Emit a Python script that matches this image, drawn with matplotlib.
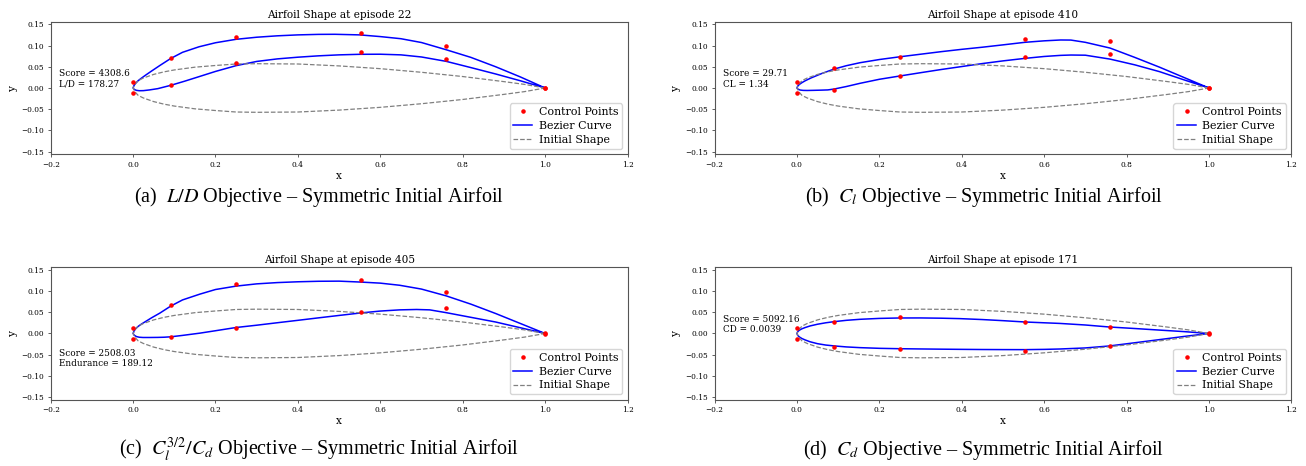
import numpy as np
import matplotlib
matplotlib.use("Agg")
import matplotlib.pyplot as plt

plt.rcParams["font.family"] = "DejaVu Serif"
plt.rcParams["mathtext.fontset"] = "stix"

# initial symmetric airfoil (upper half, lower is mirrored)
init_x = [0.0, 0.005, 0.0125, 0.025, 0.05, 0.075, 0.1, 0.15, 0.2, 0.25, 0.3, 0.4, 0.5, 0.6, 0.7, 0.8, 0.9, 0.95, 1.0]
init_y = [0.0, 0.0095, 0.0175, 0.0235, 0.032, 0.038, 0.0425, 0.049, 0.053, 0.0565, 0.0572, 0.0565, 0.052, 0.0455, 0.037, 0.027, 0.015, 0.0085, 0.0]

# control point x stations (same for every run)
cp_x = [0.0, 0.091, 0.25, 0.553, 0.76, 1.0]

episodes = [22, 410, 405, 171]
scores = ["4308.6", "29.71", "2508.03", "5092.16"]
metrics = ["L/D = 178.27", "CL = 1.34", "Endurance = 189.12", "CD = 0.0039"]

# (a) L/D
cp_up_a = [0.013, 0.0706, 0.120, 0.1287, 0.100, 0.0]
cp_lo_a = [-0.0126, 0.0063, 0.0581, 0.084, 0.069, -0.001]
up_x_a = [0.0, 0.002, 0.006, 0.012, 0.02, 0.03, 0.045, 0.065, 0.0914, 0.12, 0.16, 0.20, 0.25, 0.30, 0.35, 0.40, 0.45, 0.49, 0.55, 0.60, 0.65, 0.70, 0.76, 0.82, 0.88, 0.94, 1.0]
up_y_a = [0.0, 0.0055, 0.011, 0.017, 0.023, 0.030, 0.040, 0.053, 0.0695, 0.084, 0.097, 0.1065, 0.1146, 0.1195, 0.1228, 0.125, 0.1262, 0.1264, 0.125, 0.121, 0.116, 0.107, 0.090, 0.072, 0.050, 0.026, 0.0]
lo_x_a = [0.0, 0.003, 0.008, 0.015, 0.025, 0.04, 0.06, 0.0914, 0.125, 0.16, 0.20, 0.25, 0.30, 0.35, 0.40, 0.45, 0.50, 0.55, 0.60, 0.65, 0.70, 0.76, 0.82, 0.88, 0.94, 1.0]
lo_y_a = [0.0, -0.0035, -0.0055, -0.0064, -0.0062, -0.0045, -0.0015, 0.0063, 0.016, 0.0267, 0.039, 0.0526, 0.0625, 0.0685, 0.0725, 0.0757, 0.078, 0.0793, 0.0795, 0.078, 0.073, 0.0627, 0.048, 0.033, 0.017, 0.0]

# (b) Cl
cp_up_b = [0.0133, 0.0463, 0.0738, 0.1154, 0.1098, 0.0]
cp_lo_b = [-0.0126, -0.0039, 0.029, 0.0738, 0.0808, -0.001]
up_x_b = [0.0, 0.002, 0.006, 0.012, 0.02, 0.035, 0.06, 0.09, 0.12, 0.153, 0.20, 0.25, 0.30, 0.35, 0.40, 0.45, 0.50, 0.553, 0.60, 0.64, 0.665, 0.70, 0.76, 0.82, 0.88, 0.94, 1.0]
up_y_b = [0.0, 0.0045, 0.0085, 0.0125, 0.017, 0.024, 0.034, 0.0445, 0.0525, 0.0595, 0.067, 0.0735, 0.0795, 0.0855, 0.091, 0.096, 0.1015, 0.1075, 0.111, 0.113, 0.1128, 0.1075, 0.094, 0.072, 0.049, 0.0245, 0.0]
lo_x_b = [0.0, 0.003, 0.008, 0.015, 0.025, 0.04, 0.06, 0.075, 0.09, 0.12, 0.153, 0.20, 0.25, 0.30, 0.35, 0.40, 0.45, 0.50, 0.553, 0.60, 0.64, 0.665, 0.70, 0.76, 0.82, 0.88, 0.94, 1.0]
lo_y_b = [0.0, -0.003, -0.0048, -0.0056, -0.0058, -0.0055, -0.005, -0.0045, -0.0025, 0.0035, 0.011, 0.0205, 0.0283, 0.036, 0.0435, 0.0505, 0.0575, 0.0638, 0.0697, 0.0742, 0.0768, 0.0776, 0.0772, 0.068, 0.0545, 0.0385, 0.019, 0.0]

# (c) Cl^1.5/Cd
cp_up_c = [0.0126, 0.0675, 0.117, 0.1256, 0.097, 0.0]
cp_lo_c = [-0.0126, -0.0078, 0.0141, 0.0502, 0.0593, -0.001]
up_x_c = [0.0, 0.002, 0.006, 0.012, 0.02, 0.03, 0.045, 0.065, 0.0914, 0.12, 0.162, 0.20, 0.25, 0.30, 0.35, 0.40, 0.45, 0.50, 0.553, 0.60, 0.647, 0.70, 0.76, 0.82, 0.88, 0.94, 1.0]
up_y_c = [0.0, 0.0055, 0.011, 0.0165, 0.022, 0.028, 0.037, 0.048, 0.0645, 0.079, 0.0926, 0.1035, 0.1115, 0.1168, 0.1198, 0.1217, 0.1229, 0.1232, 0.121, 0.1185, 0.1135, 0.1045, 0.0885, 0.069, 0.047, 0.0235, 0.0]
lo_x_c = [0.0, 0.003, 0.008, 0.015, 0.024, 0.04, 0.06, 0.075, 0.0914, 0.12, 0.162, 0.20, 0.25, 0.30, 0.35, 0.40, 0.45, 0.50, 0.553, 0.60, 0.647, 0.688, 0.72, 0.76, 0.82, 0.88, 0.94, 1.0]
lo_y_c = [0.0, -0.0042, -0.0072, -0.0088, -0.0094, -0.0094, -0.0092, -0.0088, -0.0078, -0.0045, 0.0008, 0.0065, 0.0141, 0.0195, 0.0253, 0.031, 0.0368, 0.0425, 0.0484, 0.0528, 0.0556, 0.0565, 0.0556, 0.049, 0.038, 0.027, 0.0135, 0.0]

# (d) Cd
cp_up_d = [0.0122, 0.0279, 0.0381, 0.0263, 0.0161, 0.0]
cp_lo_d = [-0.013, -0.0318, -0.0357, -0.042, -0.0294, -0.001]
up_x_d = [0.0, 0.002, 0.006, 0.012, 0.02, 0.032, 0.05, 0.07, 0.09, 0.12, 0.153, 0.20, 0.249, 0.30, 0.35, 0.395, 0.45, 0.50, 0.553, 0.60, 0.638, 0.70, 0.758, 0.82, 0.88, 0.94, 1.0]
up_y_d = [0.0, 0.0045, 0.0078, 0.011, 0.014, 0.0178, 0.0218, 0.0252, 0.0278, 0.031, 0.0334, 0.0355, 0.0365, 0.0366, 0.036, 0.035, 0.0328, 0.0302, 0.0271, 0.0252, 0.0237, 0.020, 0.0153, 0.0117, 0.008, 0.0044, 0.0]
lo_x_d = [0.0, 0.002, 0.006, 0.012, 0.02, 0.032, 0.05, 0.07, 0.09, 0.12, 0.153, 0.20, 0.249, 0.30, 0.35, 0.395, 0.45, 0.50, 0.553, 0.60, 0.638, 0.70, 0.758, 0.82, 0.88, 0.94, 1.0]
lo_y_d = [0.0, -0.0045, -0.0082, -0.0118, -0.0152, -0.0195, -0.024, -0.0272, -0.0292, -0.0316, -0.0333, -0.0349, -0.0358, -0.0364, -0.0369, -0.0373, -0.0377, -0.0379, -0.038, -0.0374, -0.0365, -0.034, -0.0294, -0.0218, -0.0144, -0.0069, 0.0]

captions = [
    "(a)  $L/D$ Objective \u2013 Symmetric Initial Airfoil",
    "(b)  $C_l$ Objective \u2013 Symmetric Initial Airfoil",
    "(c)  $C_l^{3/2}/C_d$ Objective \u2013 Symmetric Initial Airfoil",
    "(d)  $C_d$ Objective \u2013 Symmetric Initial Airfoil",
]

runs = [
    (cp_up_a, cp_lo_a, up_x_a, up_y_a, lo_x_a, lo_y_a),
    (cp_up_b, cp_lo_b, up_x_b, up_y_b, lo_x_b, lo_y_b),
    (cp_up_c, cp_lo_c, up_x_c, up_y_c, lo_x_c, lo_y_c),
    (cp_up_d, cp_lo_d, up_x_d, up_y_d, lo_x_d, lo_y_d),
]

fig = plt.figure(figsize=(13.06, 4.66), dpi=100)

# axes boxes in figure fractions
lefts = [0.0388, 0.5471, 0.0388, 0.5471]
bottoms = [0.6689, 0.6689, 0.1421, 0.1421]
cap_x = [0.2443, 0.7534, 0.2443, 0.7534]
cap_y = [0.5773, 0.5773, 0.0354, 0.0354]
text_y = [0.0215, 0.0215, -0.0595, 0.0215]

for i, (cp_up, cp_lo, ux, uy, lx, ly) in enumerate(runs):
    ax = fig.add_axes([lefts[i], bottoms[i], 0.4417, 0.2845])

    # closed outline: TE -> upper -> LE -> lower -> TE
    bx = ux[::-1] + lx[1:]
    by = uy[::-1] + ly[1:]
    px = cp_x[::-1] + cp_x
    py = cp_up[::-1] + cp_lo
    ix = init_x[::-1] + init_x[1:]
    iy = init_y[::-1] + [-v for v in init_y[1:]]

    ax.plot(px, py, "r.", markersize=4.5, label="Control Points", zorder=3)
    ax.plot(bx, by, "b-", linewidth=1.1, label="Bezier Curve")
    ax.plot(ix, iy, "--", color="gray", linewidth=0.9, label="Initial Shape")

    ax.text(-0.18, text_y[i], "Score = " + scores[i] + "\n" + metrics[i],
            fontsize=6.4, va="center", ha="left")

    ax.set_xlim(-0.2, 1.2)
    ax.set_ylim(-0.156, 0.156)
    ax.set_xticks(np.arange(-0.2, 1.21, 0.2))
    ax.set_yticks([-0.15, -0.10, -0.05, 0.0, 0.05, 0.10, 0.15])
    ax.set_yticklabels(["\u22120.15", "\u22120.10", "\u22120.05", "0.00", "0.05", "0.10", "0.15"])
    ax.set_xticklabels(["\u22120.2", "0.0", "0.2", "0.4", "0.6", "0.8", "1.0", "1.2"])
    ax.tick_params(labelsize=5.3, length=2.5, width=0.6, pad=2, color="#444444")
    for s in ax.spines.values():
        s.set_color("#555555")
        s.set_linewidth(0.8)

    ax.set_title("Airfoil Shape at episode " + str(episodes[i]), fontsize=7.6, pad=3)
    ax.set_xlabel("x", fontsize=7.6, labelpad=1.5)
    ax.set_ylabel("y", fontsize=7.6, labelpad=3)
    ax.legend(loc="lower right", fontsize=7.9, handlelength=1.7, labelspacing=0.35,
              borderpad=0.35, handletextpad=0.6)

    fig.text(cap_x[i], cap_y[i], captions[i], ha="center", va="center",
             fontsize=14.5, family="Liberation Serif")

plt.savefig("out.png", dpi=100)
